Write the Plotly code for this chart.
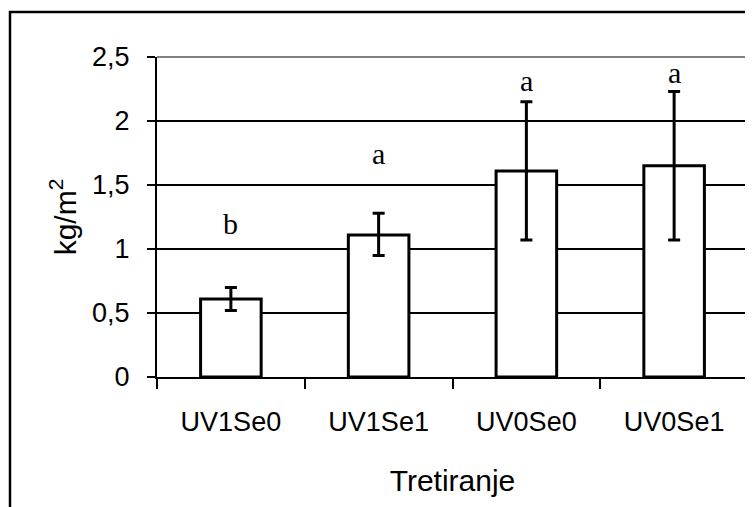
import plotly.graph_objects as go

categories = ["UV1Se0", "UV1Se1", "UV0Se0", "UV0Se1"]
values = [0.61, 1.11, 1.61, 1.65]
err_plus = [0.09, 0.17, 0.54, 0.58]
err_minus = [0.09, 0.16, 0.54, 0.58]
letters = ["b", "a", "a", "a"]
letter_y = [1.2, 1.75, 2.32, 2.38]
y_ticks = [0, 0.5, 1, 1.5, 2, 2.5]
y_tick_labels = ["0", "0,5", "1", "1,5", "2", "2,5"]

# page body has an 8px margin, so figure coordinates are offset by -8
OFF = 8
W, H = 753, 507
L, T = 157 - OFF, 57 - OFF
R = W - (748 - OFF)
B = H - (377 - OFF)
pw, ph = W - L - R, H - T - B

def px_x(px):
    return (px - OFF - L) / pw

def px_y(py):
    return (H - B - (py - OFF)) / ph

fig = go.Figure()
fig.add_trace(go.Bar(
    x=categories, y=values,
    marker=dict(color="white", line=dict(color="black", width=3)),
    error_y=dict(type="data", symmetric=False, array=err_plus, arrayminus=err_minus,
                 color="black", thickness=3, width=6),
    showlegend=False,
))

for c, t, yy in zip(categories, letters, letter_y):
    fig.add_annotation(x=c, y=yy, text=t, showarrow=False, xanchor="center", yanchor="middle",
                       font=dict(family="Liberation Serif", size=30, color="black"))

# plot area top/right gray border
fig.add_shape(type="line", xref="paper", yref="paper", x0=0, x1=1, y0=1, y1=1,
              line=dict(color="#808080", width=2), layer="above")
fig.add_shape(type="line", xref="paper", yref="paper", x0=1, x1=1, y0=0, y1=1,
              line=dict(color="#808080", width=2), layer="above")
# outer chart border
fig.add_shape(type="rect", xref="paper", yref="paper",
              x0=px_x(10), x1=px_x(790), y0=px_y(560), y1=px_y(12),
              line=dict(color="black", width=2.5), fillcolor="rgba(0,0,0,0)", layer="above")

fig.update_layout(
    width=W, height=H,
    margin=dict(l=L, r=R, t=T, b=B, pad=0),
    paper_bgcolor="white", plot_bgcolor="white",
    bargap=0.59,
    font=dict(family="Liberation Sans", color="black"),
    xaxis=dict(
        type="category", showline=True, linecolor="black", linewidth=2,
        ticks="outside", ticklen=10, tickwidth=2, tickcolor="black", tickson="boundaries",
        tickfont=dict(size=27, family="Liberation Sans"), showgrid=False,
        ticklabelstandoff=20,
        title=dict(text="Tretiranje", font=dict(size=30, family="Liberation Sans"), standoff=34),
    ),
    yaxis=dict(
        range=[0, 2.5], tickvals=y_ticks, ticktext=y_tick_labels,
        showline=True, linecolor="black", linewidth=2,
        ticks="outside", ticklen=8, tickwidth=2, tickcolor="black",
        showgrid=True, gridcolor="black", gridwidth=1.5, zeroline=False,
        tickfont=dict(size=27, family="Liberation Sans"), ticklabelstandoff=12,
        title=dict(text="kg/m<sup>2</sup>", font=dict(size=30, family="Liberation Sans"), standoff=7),
    ),
)

fig.write_html("out.html")
